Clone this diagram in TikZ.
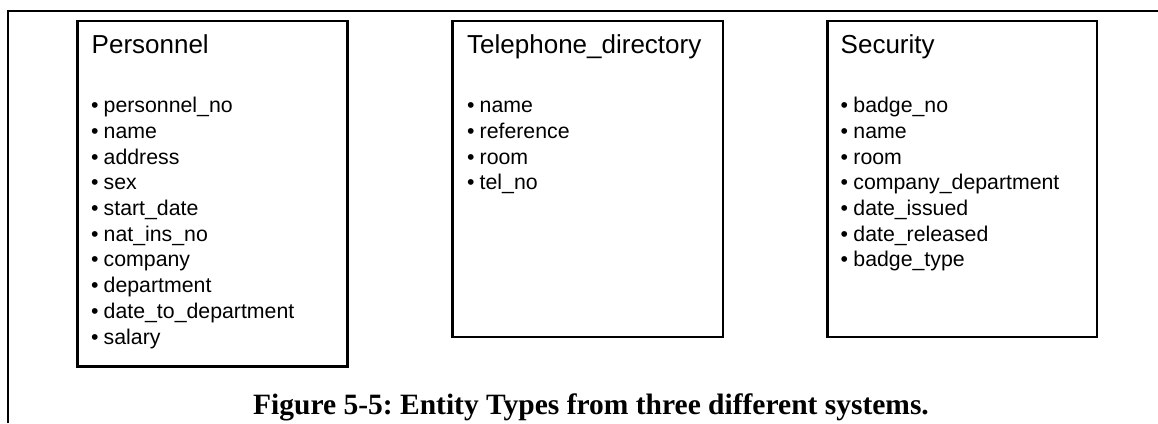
\documentclass[tikz,border=0pt]{standalone}
\usepackage{fontspec}
\setmainfont{Liberation Sans}
\newfontfamily\capfont{Liberation Serif}
\usetikzlibrary{calc}
\frenchspacing
\begin{document}
\begin{tikzpicture}[x=1pt,y=-1pt,
  frameline/.style={line width=2pt, line join=miter},
  entitybox/.style={draw, line width=2.3pt, inner sep=0pt, outer sep=0pt, anchor=north west},
  boxtitle/.style={anchor=base west, inner sep=0pt, font=\fontsize{26}{30}\selectfont},
  boxitem/.style={anchor=base west, inner sep=0pt, font=\fontsize{21.3}{25}\selectfont},
  figcaption/.style={anchor=base west, inner sep=0pt, font=\capfont\bfseries\fontsize{29.5}{34}\selectfont}]
\useasboundingbox (0,0) rectangle (1158,423);

% outer frame: top rule and left rule
\coordinate (frameleft) at (7.5,423);
\coordinate (framecorner) at (7.5,11);
\coordinate (frameright) at (1158,11);
\draw[frameline] (frameleft) -- (framecorner) -- (frameright);

% entity boxes
\node[entitybox, minimum width=270pt, minimum height=345.5pt] (pers) at (77.5,21) {};
\node[entitybox, minimum width=270.5pt, minimum height=316pt] (tel) at (452.5,21) {};
\node[entitybox, minimum width=269.5pt, minimum height=316pt] (sec) at (827.5,21) {};

% titles
\node[boxtitle] (pers-title) at ($(pers.north west)+(14,32.3)$) {Personnel};
\node[boxtitle] (tel-title) at ($(tel.north west)+(14.5,32.3)$) {Telephone\_directory};
\node[boxtitle] (sec-title) at ($(sec.north west)+(13,32.3)$) {Security};

% attribute lists
\foreach \t [count=\i] in {personnel\_no, name, address, sex, start\_date,
    nat\_ins\_no, company, department, date\_to\_department, salary}
  \node[boxitem] (pers-\i) at ($(pers.north west)+(13.3,{91.7+25.7*(\i-1)})$)
    {\makebox[12.7pt][l]{•}\t};
\foreach \t [count=\i] in {name, reference, room, tel\_no}
  \node[boxitem] (tel-\i) at ($(tel.north west)+(14.3,{91.7+25.7*(\i-1)})$)
    {\makebox[12.7pt][l]{•}\t};
\foreach \t [count=\i] in {badge\_no, name, room, company\_department,
    date\_issued, date\_released, badge\_type}
  \node[boxitem] (sec-\i) at ($(sec.north west)+(13,{91.7+25.7*(\i-1)})$)
    {\makebox[12.7pt][l]{•}\t};

% caption
\node[figcaption] (cap) at (253,414.5) {Figure 5-5: Entity Types from three different systems.};
\end{tikzpicture}
\end{document}
